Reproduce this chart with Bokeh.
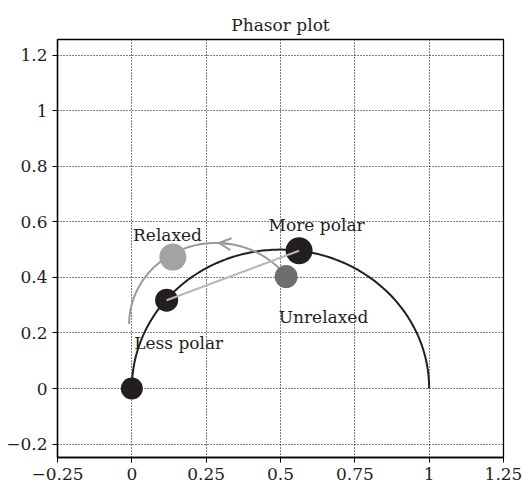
import numpy as np
from bokeh.plotting import figure
from bokeh.models import Arrow, OpenHead, FixedTicker, ColumnDataSource
from bokeh.core.properties import value
from bokeh.embed import file_html
from bokeh.resources import INLINE

# ---- data ----
x_ticks = [-0.25, 0, 0.25, 0.5, 0.75, 1, 1.25]
x_tick_labels = ["\u22120.25", "0", "0.25", "0.5", "0.75", "1", "1.25"]
y_ticks = [-0.2, 0, 0.2, 0.4, 0.6, 0.8, 1, 1.2]
y_tick_labels = ["\u22120.2", "0", "0.2", "0.4", "0.6", "0.8", "1", "1.2"]

point_names = ["Origin", "Less polar", "More polar", "Relaxed", "Unrelaxed"]
point_x = [0.0, 0.117, 0.5625, 0.138, 0.519]
point_y = [0.0, 0.318, 0.496, 0.473, 0.403]
point_color = ["#231f20", "#231f20", "#231f20", "#a3a3a3", "#6d6e70"]
point_size = [22, 23, 27, 27, 23]

label_text = ["Relaxed", "More polar", "Unrelaxed", "Less polar"]
label_x = [0.004, 0.460, 0.494, 0.008]
label_y = [0.551, 0.587, 0.256, 0.165]

# universal semicircle (center, radius)
semi_cx, semi_cy, semi_r = 0.5, 0.0, 0.5
# relaxation trajectory arc
arc_cx, arc_cy, arc_r = 0.283, 0.232, 0.292
arc_start_deg, arc_end_deg = 36, 180
arrow_from_deg, arrow_to_deg = 80, 88

# straight line: Less polar -> More polar
line_from, line_to = "Less polar", "More polar"

FONT = "DejaVu Serif"

p = figure(width=525, height=485, x_range=(-0.25, 1.25), y_range=(-0.248, 1.256),
           output_backend="svg", toolbar_location=None,
           min_border_left=57, min_border_right=22, min_border_top=39, min_border_bottom=28)
p.background_fill_color = "white"
p.border_fill_color = "white"
p.outline_line_color = "black"
p.outline_line_width = 1.3

p.title.text = "Phasor plot"
p.title.align = "center"
p.title.text_font = FONT
p.title.text_font_size = "17px"
p.title.text_font_style = "normal"
p.title.text_color = "#231f20"
p.title.standoff = 10

p.xaxis.ticker = FixedTicker(ticks=x_ticks)
p.yaxis.ticker = FixedTicker(ticks=y_ticks)
p.xaxis.major_label_overrides = {t: l for t, l in zip(x_ticks, x_tick_labels)}
p.yaxis.major_label_overrides = {t: l for t, l in zip(y_ticks, y_tick_labels)}
for ax in (p.xaxis, p.yaxis):
    ax.major_label_text_font = FONT
    ax.major_label_text_font_size = "17px"
    ax.major_label_text_color = "#231f20"
    ax.axis_line_color = "black"
    ax.axis_line_width = 1.3
    ax.major_tick_line_color = "black"
    ax.major_tick_out = 5
    ax.major_tick_in = 0
    ax.minor_tick_line_color = None
p.xaxis.major_label_standoff = 5
p.yaxis.major_label_standoff = 5

for g in (p.xgrid, p.ygrid):
    g.grid_line_color = "black"
    g.grid_line_dash = "1 2"
    g.grid_line_width = 1

# semicircle
t = np.linspace(0, np.pi, 200)
p.line(semi_cx + semi_r * np.cos(t), semi_cy + semi_r * np.sin(t),
       line_color="#231f20", line_width=2)

# relaxation arc
a = np.radians(np.linspace(arc_start_deg, arc_end_deg, 200))
p.line(arc_cx + arc_r * np.cos(a), arc_cy + arc_r * np.sin(a),
       line_color="#9a9a9a", line_width=2)
a0, a1 = np.radians(arrow_from_deg), np.radians(arrow_to_deg)
p.add_layout(Arrow(end=OpenHead(size=12, line_color="#9a9a9a", line_width=2),
                   x_start=arc_cx + arc_r * np.cos(a0), y_start=arc_cy + arc_r * np.sin(a0),
                   x_end=arc_cx + arc_r * np.cos(a1), y_end=arc_cy + arc_r * np.sin(a1),
                   line_color="#9a9a9a", line_width=2))

# points
src = ColumnDataSource(dict(x=point_x, y=point_y, c=point_color, s=point_size))
p.scatter("x", "y", source=src, size="s", fill_color="c", line_color=None)

# straight line between less polar and more polar
i0, i1 = point_names.index(line_from), point_names.index(line_to)
p.line([point_x[i0], point_x[i1]], [point_y[i0], point_y[i1]],
       line_color="#b8b8b8", line_width=2)

# labels
lsrc = ColumnDataSource(dict(x=label_x, y=label_y, t=label_text))
p.text("x", "y", text="t", source=lsrc, text_font=value(FONT), text_font_size="17px",
       text_color="#231f20", text_align="left", text_baseline="alphabetic")

open("out.html", "w").write(file_html(p, INLINE))
